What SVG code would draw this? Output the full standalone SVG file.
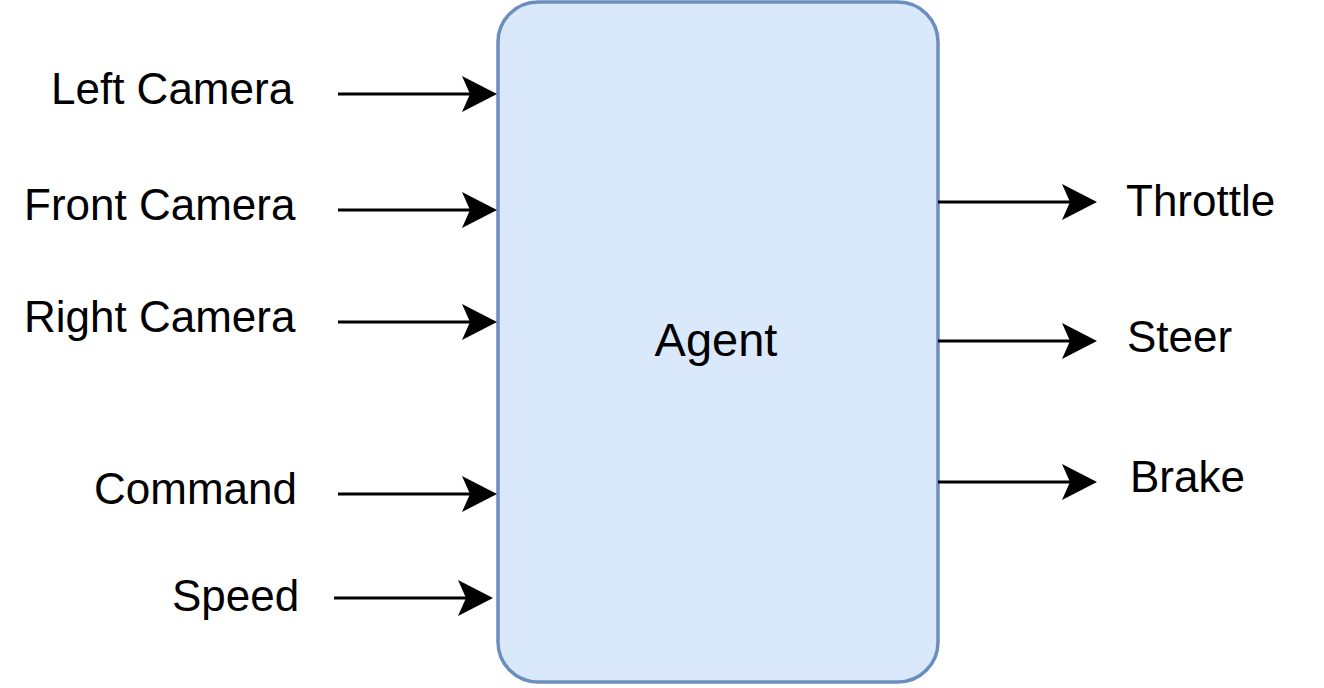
<svg xmlns="http://www.w3.org/2000/svg" width="1324" height="688" viewBox="0 0 1324 688">
  <style>
    .lbl { font-family: "Liberation Sans", Arial, sans-serif; font-size: 44px; fill: #000; }
    .title { font-family: "Liberation Sans", Arial, sans-serif; font-size: 47px; fill: #000; text-anchor: middle; }
    .edge { stroke: #000; stroke-width: 3; fill: none; marker-end: url(#arrow); }
  </style>
  <defs>
    <marker id="arrow" markerUnits="userSpaceOnUse" viewBox="-10 -20 40 40" refX="0" refY="0" markerWidth="40" markerHeight="40" orient="auto">
      <path d="M27,0 L-8,-18 L0,0 L-8,18 Z" fill="#000"/>
    </marker>
  </defs>
  <rect width="1324" height="688" fill="#fff"/>

  <g id="agent">
    <rect x="498" y="2" width="440" height="680" rx="40" ry="40" fill="#dae8fc" stroke="#6c8ebf" stroke-width="3.5"/>
    <text class="title" x="716" y="356">Agent</text>
  </g>

  <g id="left-camera"><text class="lbl" x="51" y="104">Left Camera</text></g>
  <g id="front-camera"><text class="lbl" x="24" y="220">Front Camera</text></g>
  <g id="right-camera"><text class="lbl" x="24" y="332">Right Camera</text></g>
  <g id="command"><text class="lbl" x="94" y="504">Command</text></g>
  <g id="speed"><text class="lbl" x="172" y="611">Speed</text></g>

  <g id="throttle"><text class="lbl" x="1126" y="216">Throttle</text></g>
  <g id="steer"><text class="lbl" x="1127" y="352">Steer</text></g>
  <g id="brake"><text class="lbl" x="1130" y="492">Brake</text></g>

  <g id="connectors">
    <line class="edge" x1="338" y1="94" x2="470" y2="94"/>
    <line class="edge" x1="338" y1="210" x2="470" y2="210"/>
    <line class="edge" x1="338" y1="322" x2="470" y2="322"/>
    <line class="edge" x1="338" y1="494" x2="470" y2="494"/>
    <line class="edge" x1="334" y1="598" x2="466" y2="598"/>
    <line class="edge" x1="938" y1="202" x2="1070" y2="202"/>
    <line class="edge" x1="938" y1="341" x2="1070" y2="341"/>
    <line class="edge" x1="938" y1="482" x2="1070" y2="482"/>
  </g>
</svg>
